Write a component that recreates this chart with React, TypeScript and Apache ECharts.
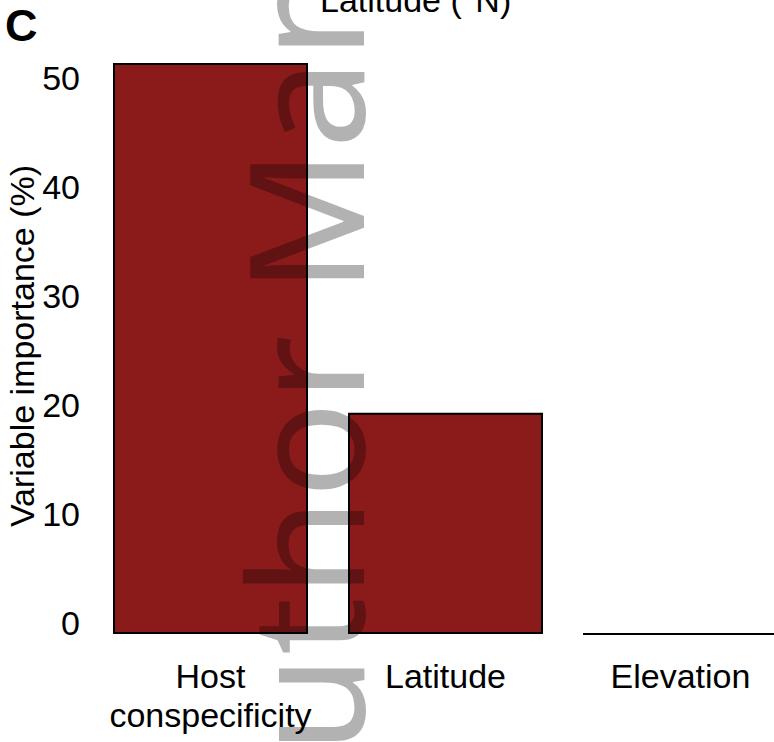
import React, { useEffect, useRef } from "react";
import * as echarts from "echarts";

const categories = ["Host\nconspecificity", "Latitude", "Elevation"];
const importance = [52.4, 20.3, 0];
const yTicks = [0, 10, 20, 30, 40, 50];
const yMax = 58.17;

const FONT = "'Liberation Sans', Arial, sans-serif";

export default function App() {
  const ref = useRef<HTMLDivElement>(null);
  useEffect(() => {
    if (!ref.current) return;
    const chart = echarts.init(ref.current, null, { renderer: "svg" });
    chart.setOption({
      animation: false,
      backgroundColor: "#ffffff",
      grid: { left: 93, right: 0, top: 0, bottom: 108, containLabel: false },
      xAxis: {
        type: "category",
        data: categories,
        axisLine: { show: false },
        axisTick: { show: false },
        axisLabel: {
          fontFamily: FONT,
          fontSize: 34,
          color: "#000",
          lineHeight: 39,
          margin: 22,
          interval: 0,
        },
      },
      yAxis: {
        type: "value",
        min: 0,
        max: yMax,
        interval: 10,
        axisLine: { show: false },
        axisTick: { show: false },
        splitLine: { show: false },
        axisLabel: {
          fontFamily: FONT,
          fontSize: 34,
          color: "#000",
          margin: 13,
          verticalAlign: "bottom",
          lineHeight: 23,
          showMaxLabel: false,
          formatter: (v: number) => (yTicks.includes(v) ? String(v) : ""),
        },
      },
      series: [
        {
          type: "bar",
          data: importance,
          barWidth: 195,
          itemStyle: { color: "#8B1A1A", borderColor: "#000", borderWidth: 2 },
        },
      ],
      graphic: [
        {
          type: "text",
          x: 5,
          y: 48,
          style: {
            text: "C",
            font: `bold 45px ${FONT}`,
            fill: "#000",
            textAlign: "left",
            textVerticalAlign: "bottom",
          },
        },
        {
          type: "text",
          x: 320,
          y: 17,
          style: {
            text: "Latitude (°N)",
            font: `34px ${FONT}`,
            fill: "#000",
            textAlign: "left",
            textVerticalAlign: "bottom",
          },
        },
        {
          type: "text",
          x: 22,
          y: 346,
          rotation: Math.PI / 2,
          style: {
            text: "Variable importance (%)",
            font: `34px ${FONT}`,
            fill: "#000",
            textAlign: "center",
            textVerticalAlign: "middle",
          },
        },
        {
          type: "text",
          x: 302,
          y: 856,
          rotation: Math.PI / 2,
          z: 100,
          style: {
            text: "Author Manuscript",
            font: "160px 'Noto Sans', 'Open Sans', sans-serif",
            fill: "rgba(0,0,0,0.3)",
            textAlign: "left",
            textVerticalAlign: "middle",
          },
        },
      ],
    });
    return () => chart.dispose();
  }, []);
  return (
    <div
      ref={ref}
      style={{ position: "fixed", left: 0, top: 0, width: 798, height: 742 }}
    />
  );
}
